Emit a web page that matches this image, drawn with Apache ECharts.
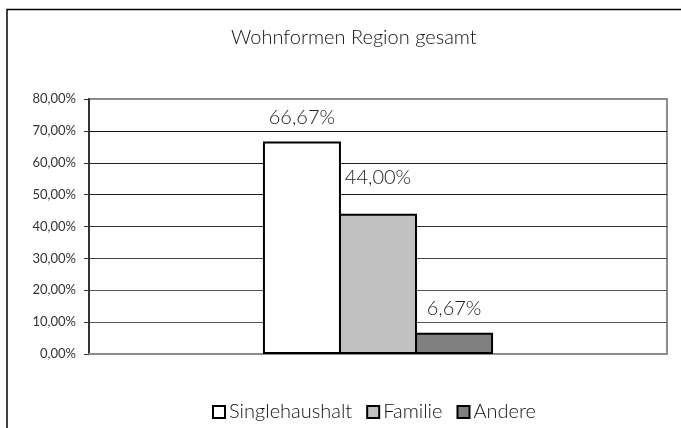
<!DOCTYPE html>
<html>
<head>
<meta charset="utf-8">
<script src="https://cdn.jsdelivr.net/npm/echarts@6/dist/echarts.min.js"></script>
<style>
  html, body { margin: 0; padding: 0; background: #fff; }
  #chart { width: 681px; height: 428px; }
</style>
</head>
<body>
<div id="chart"></div>
<script>
// Wohnformen – Anteile in Prozent
const categories = ['Gesamt'];
const seriesNames = ['Singlehaushalt', 'Familie', 'Andere'];
const singlehaushalt = [66.67];
const familie = [44.00];
const andere = [6.67];
const yTicks = { min: 0, max: 80, interval: 10 };

const FONT = 'Lato, "Open Sans", sans-serif';
const fmt = v => v.toFixed(2).replace('.', ',') + '%';

const fills = ['#ffffff', '#c0c0c0', '#808080'];
const labelDist = [14, 26, 14];
const seriesData = [singlehaushalt, familie, andere];

// gridlines from 0 % to 80 %: outer ones grey, inner ones dark
const gridColors = ['#8c8c8c', '#555', '#555', '#444', '#333', '#222', '#222', '#111', '#8c8c8c'];

const chart = echarts.init(document.getElementById('chart'));
chart.setOption({
  animation: false,
  backgroundColor: '#fff',
  title: {
    text: 'Wohnformen Region gesamt',
    left: 226,
    top: 23,
    textStyle: { fontFamily: FONT, fontSize: 20, fontWeight: 300, color: '#111' }
  },
  legend: {
    data: seriesNames,
    left: 207,
    top: 397,
    icon: 'rect',
    itemWidth: 12,
    itemHeight: 12,
    itemGap: 14,
    textStyle: { fontFamily: FONT, fontSize: 20, fontWeight: 300, color: '#111', padding: [0, 0, 0, -1] }
  },
  grid: {
    left: 89, right: 14, top: 99, bottom: 74,
    show: true, borderColor: '#8c8c8c', borderWidth: 2
  },
  graphic: [{
    type: 'rect',
    shape: { x: 7, y: 9.5, width: 690, height: 440 },
    style: { fill: 'none', stroke: '#000', lineWidth: 1.5 },
    silent: true
  }],
  xAxis: {
    type: 'category',
    data: categories,
    axisLine: { show: true, lineStyle: { color: '#8c8c8c', width: 2 } },
    axisTick: { show: false },
    axisLabel: { show: false }
  },
  yAxis: {
    type: 'value',
    min: yTicks.min, max: yTicks.max, interval: yTicks.interval,
    axisLine: { show: true, lineStyle: { color: '#333', width: 2 } },
    axisTick: { show: true, length: 5, lineStyle: { color: '#333' } },
    axisLabel: { formatter: fmt, fontFamily: FONT, fontSize: 13, color: '#333', margin: 13 },
    splitLine: { show: true, lineStyle: { color: gridColors, width: 1 } }
  },
  series: seriesNames.map((name, i) => ({
    name,
    type: 'bar',
    data: seriesData[i],
    barWidth: 78,
    barGap: '-2.5%',
    itemStyle: { color: fills[i], borderColor: '#000', borderWidth: 2 },
    label: {
      show: true, position: 'top', distance: labelDist[i],
      formatter: p => fmt(p.value),
      fontFamily: FONT, fontSize: 20, fontWeight: 300, color: '#222'
    }
  }))
});
</script>
</body>
</html>
